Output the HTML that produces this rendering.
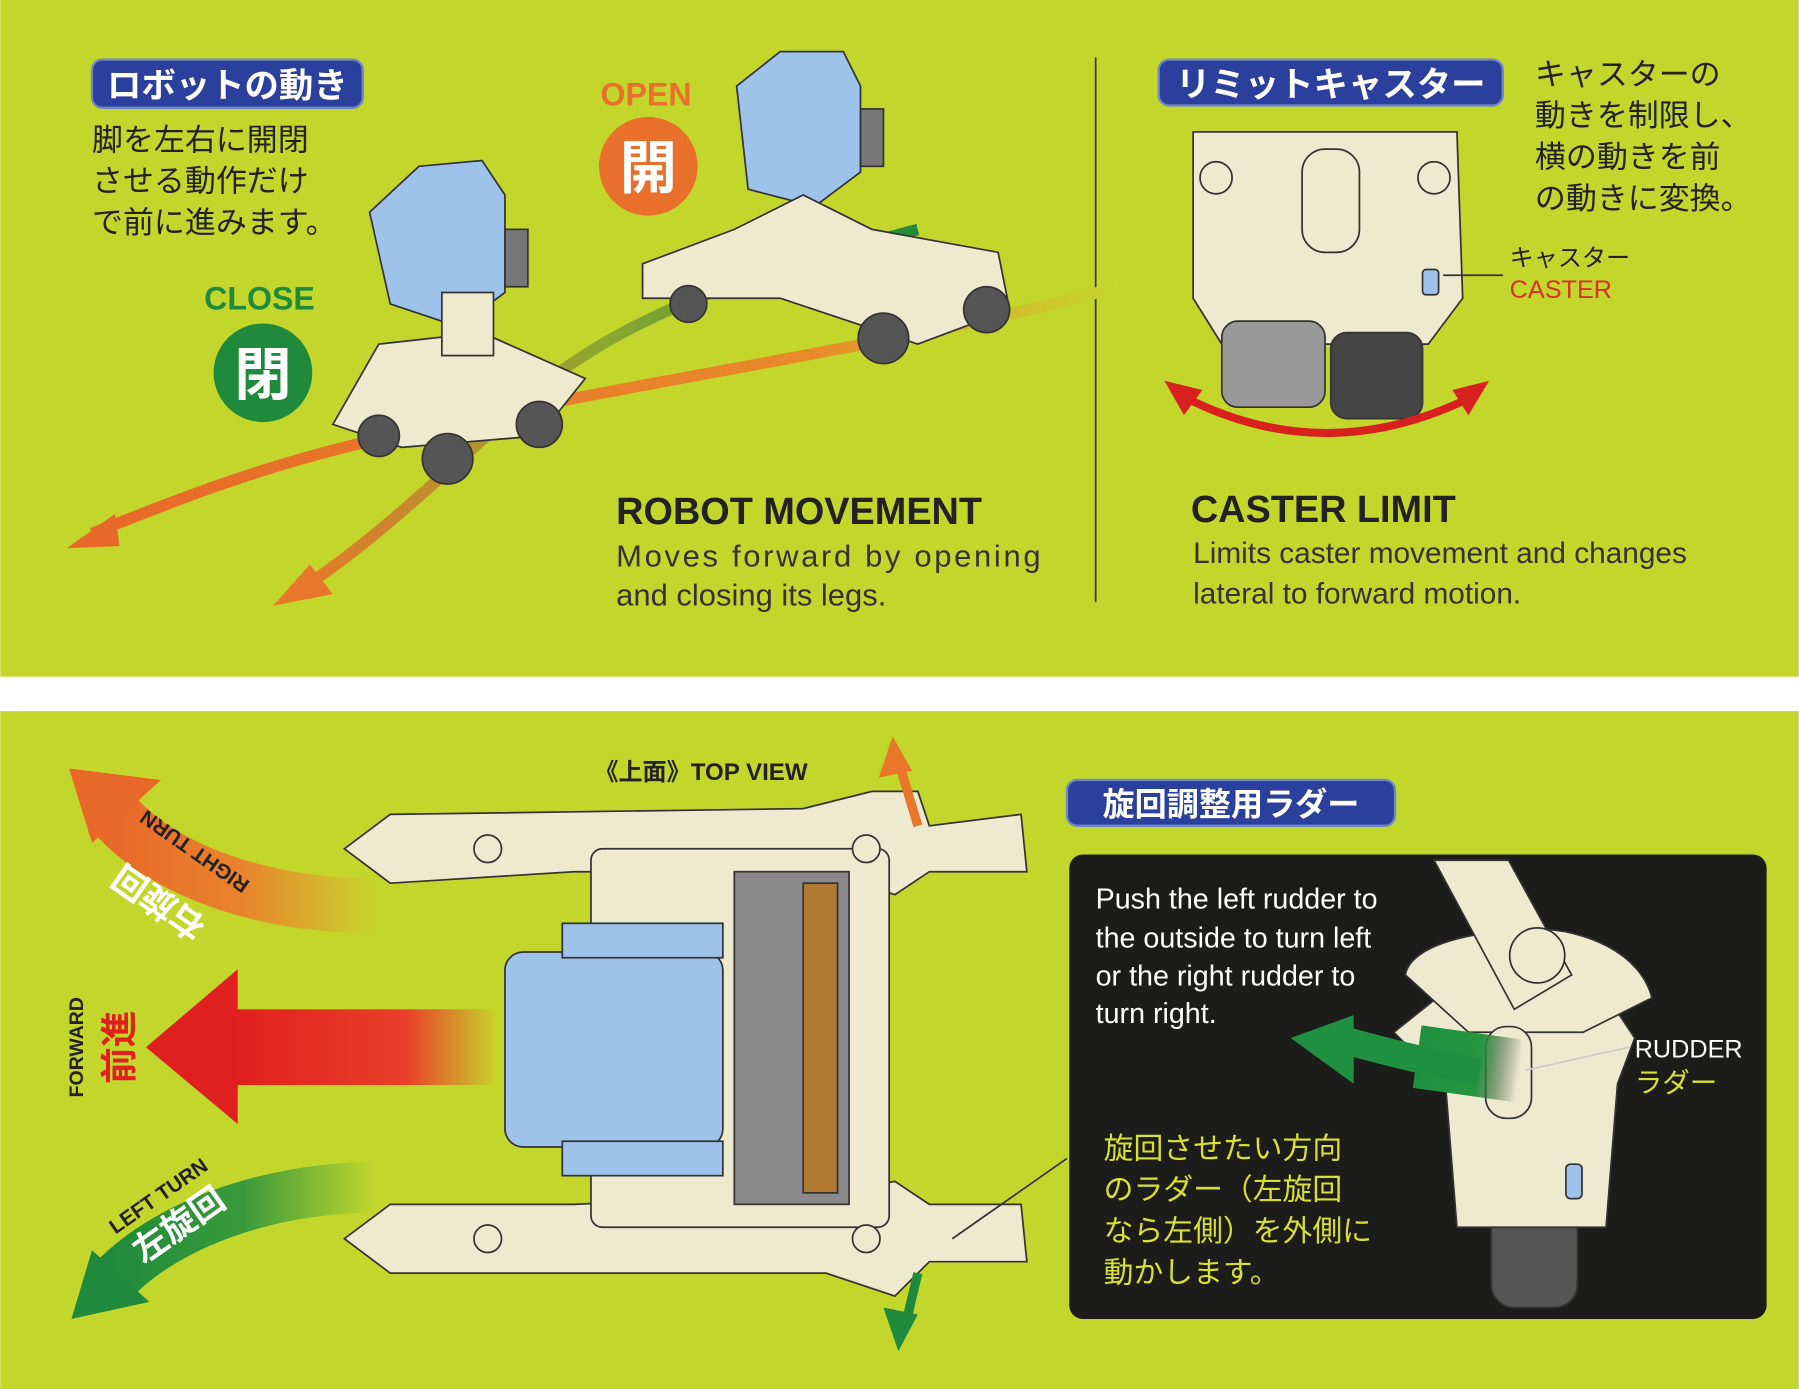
<!DOCTYPE html>
<html><head><meta charset="utf-8"><style>
html,body{margin:0;padding:0;background:#fff;}
svg{display:block;}
text{font-family:"Liberation Sans","Noto Sans CJK JP",sans-serif;}
</style></head><body>
<svg width="1799" height="1389" viewBox="0 0 1568 1211" xmlns="http://www.w3.org/2000/svg">
<defs>
<linearGradient id="og" x1="1" y1="0" x2="0" y2="0"><stop offset="0" stop-color="#c5d82c"/><stop offset="0.3" stop-color="#e88a2a"/><stop offset="1" stop-color="#e8682a"/></linearGradient>
<linearGradient id="gg" x1="0" y1="0" x2="1" y2="0"><stop offset="0" stop-color="#e8772a"/><stop offset="0.5" stop-color="#8aa830"/><stop offset="1" stop-color="#1f8a3c"/></linearGradient>
<linearGradient id="rg" x1="1" y1="0" x2="0" y2="0"><stop offset="0" stop-color="#c5d82c"/><stop offset="0.35" stop-color="#e8402a"/><stop offset="1" stop-color="#e0201e"/></linearGradient>
<linearGradient id="rt" x1="1" y1="0" x2="0" y2="0"><stop offset="0" stop-color="#c5d82c"/><stop offset="0.5" stop-color="#e9842c"/><stop offset="1" stop-color="#e8682a"/></linearGradient>
<linearGradient id="lt" x1="1" y1="0" x2="0" y2="0"><stop offset="0" stop-color="#c5d82c"/><stop offset="0.5" stop-color="#3a9a3a"/><stop offset="1" stop-color="#1f8a3c"/></linearGradient>
<linearGradient id="gr" x1="1" y1="0" x2="0" y2="0"><stop offset="0" stop-color="#1e1e1e" stop-opacity="0"/><stop offset="0.4" stop-color="#27963f"/><stop offset="1" stop-color="#1f9040"/></linearGradient>
</defs>
<rect width="1568" height="1211" fill="#fff"/>
<rect x="0" y="0" width="1568" height="590" fill="#c3d62c"/>
<rect x="0" y="620" width="1568" height="591" fill="#c3d62c"/>
<line x1="955" y1="50" x2="955" y2="525" stroke="#333" stroke-width="1.5"/>

<rect x="80" y="52" width="236" height="42" rx="9" fill="#2b3f9c" stroke="#6f86c8" stroke-width="2"/>
<text x="198" y="85" font-size="30" font-weight="bold" fill="#fff" text-anchor="middle">ロボットの動き</text>
<g font-size="27" fill="#222">
<text x="80" y="131">脚を左右に開閉</text>
<text x="80" y="167">させる動作だけ</text>
<text x="80" y="203">で前に進みます。</text>
</g>
<text x="226" y="270" font-size="28" font-weight="bold" fill="#1f8a3c" text-anchor="middle">CLOSE</text>
<circle cx="229" cy="325" r="43" fill="#1f8a3c"/>
<text x="229" y="344" font-size="50" font-weight="bold" fill="#fff" text-anchor="middle">閉</text>
<text x="563" y="92" font-size="28" font-weight="bold" fill="#e8702a" text-anchor="middle">OPEN</text>
<circle cx="565" cy="145" r="43" fill="#e8702a"/>
<text x="565" y="164" font-size="50" font-weight="bold" fill="#fff" text-anchor="middle">開</text>

<path d="M975,250 C800,300 500,340 300,390 C200,415 120,450 80,465" stroke="url(#og)" stroke-width="10" fill="none"/>
<polygon points="58,478 100,448 104,476" fill="#e8682a"/>
<path d="M800,200 C650,240 560,270 480,330 C400,400 330,470 260,515" stroke="url(#gg)" stroke-width="10" fill="none"/>
<polygon points="238,528 270,492 290,518" fill="#e8772a"/>

<g stroke="#333" stroke-width="1.5">
<path d="M322,185 L365,145 L420,140 L440,170 L440,255 L400,285 L340,265 Z" fill="#9ec3ea"/>
<path d="M330,300 L420,290 L510,330 L470,380 L350,390 L290,370 Z" fill="#eeead0"/>
<rect x="385" y="255" width="45" height="55" fill="#eeead0"/>
<rect x="440" y="200" width="20" height="50" fill="#777"/>
<circle cx="390" cy="400" r="22" fill="#555"/>
<circle cx="470" cy="370" r="20" fill="#555"/>
<circle cx="330" cy="380" r="18" fill="#555"/>
</g>
<g stroke="#333" stroke-width="1.5">
<path d="M642,75 L680,45 L735,45 L750,75 L750,150 L710,180 L652,165 Z" fill="#9ec3ea"/>
<path d="M560,230 L640,200 L700,170 L760,200 L870,220 L880,270 L800,300 L680,260 L560,260 Z" fill="#eeead0"/>
<rect x="750" y="95" width="20" height="50" fill="#777"/>
<circle cx="770" cy="295" r="22" fill="#555"/>
<circle cx="860" cy="270" r="20" fill="#555"/>
<circle cx="600" cy="265" r="16" fill="#555"/>
</g>

<text x="537" y="457" font-size="33" font-weight="bold" fill="#222">ROBOT MOVEMENT</text>
<text x="537" y="494" font-size="27" fill="#333" textLength="370">Moves forward by opening</text>
<text x="537" y="528" font-size="27" fill="#333">and closing its legs.</text>

<rect x="1010" y="52" width="300" height="40" rx="9" fill="#2b3f9c" stroke="#6f86c8" stroke-width="2"/>
<text x="1160" y="84" font-size="30" font-weight="bold" fill="#fff" text-anchor="middle">リミットキャスター</text>
<g font-size="27" fill="#222">
<text x="1338" y="74">キャスターの</text>
<text x="1338" y="110">動きを制限し、</text>
<text x="1338" y="146">横の動きを前</text>
<text x="1338" y="182">の動きに変換。</text>
</g>
<g stroke="#333" stroke-width="1.5">
<path d="M1040,115 L1270,115 L1275,260 L1245,300 L1065,300 L1040,260 Z" fill="#eeead0"/>
<rect x="1065" y="280" width="90" height="75" rx="14" fill="#999"/>
<rect x="1160" y="290" width="80" height="75" rx="14" fill="#444"/>
<rect x="1135" y="130" width="50" height="90" rx="20" fill="#eeead0"/>
<circle cx="1060" cy="155" r="14" fill="#eeead0"/>
<circle cx="1250" cy="155" r="14" fill="#eeead0"/>
<rect x="1240" y="235" width="14" height="22" rx="3" fill="#9ec3ea"/>
</g>
<line x1="1258" y1="240" x2="1310" y2="240" stroke="#333" stroke-width="1.5"/>
<text x="1316" y="232" font-size="21" fill="#222">キャスター</text>
<text x="1316" y="260" font-size="22" fill="#d8302a">CASTER</text>
<path d="M1030,345 Q1155,410 1285,345" stroke="#d8201e" stroke-width="7" fill="none"/>
<polygon points="1015,332 1048,340 1032,362" fill="#d8201e"/>
<polygon points="1298,332 1280,362 1266,340" fill="#d8201e"/>
<text x="1038" y="455" font-size="33" font-weight="bold" fill="#222">CASTER LIMIT</text>
<text x="1040" y="491" font-size="26" fill="#333">Limits caster movement and changes</text>
<text x="1040" y="526" font-size="26" fill="#333">lateral to forward motion.</text>

<text x="518" y="680" font-size="21" font-weight="bold" fill="#222">《上面》TOP VIEW</text>
<path d="M330,790 C230,790 140,760 95,705" stroke="url(#rt)" stroke-width="48" fill="none"/>
<polygon points="60,670 140,680 80,735" fill="#e8682a"/>
<g transform="translate(150,770) rotate(35)">
<text x="0" y="-10" font-size="30" font-weight="bold" fill="#fff" text-anchor="middle" transform="rotate(180)">右旋回</text>
<text x="0" y="40" font-size="18" font-weight="bold" fill="#222" text-anchor="middle" transform="rotate(180)">RIGHT TURN</text>
</g>
<rect x="205" y="880" width="230" height="66" fill="url(#rg)"/>
<polygon points="127,913 207,845 207,980" fill="#e0201e"/>
<text font-size="32" font-weight="bold" fill="#e0201e" transform="translate(115,913) rotate(-90)" text-anchor="middle">前進</text>
<text font-size="17" font-weight="bold" fill="#222" transform="translate(72,913) rotate(-90)" text-anchor="middle">FORWARD</text>
<path d="M330,1035 C230,1035 140,1070 95,1120" stroke="url(#lt)" stroke-width="44" fill="none"/>
<polygon points="62,1150 80,1090 130,1135" fill="#1f8a3c"/>
<g transform="translate(150,1060) rotate(-35)">
<text x="0" y="20" font-size="30" font-weight="bold" fill="#fff" text-anchor="middle">左旋回</text>
<text x="0" y="-15" font-size="18" font-weight="bold" fill="#222" text-anchor="middle">LEFT TURN</text>
</g>

<g stroke="#333" stroke-width="1.5" fill="#eeead0">
<path d="M300,740 L340,710 L700,705 L760,690 L800,690 L810,720 L890,710 L895,760 L810,760 L780,780 L720,760 L500,760 L340,770 Z"/>
<path d="M300,1080 L340,1050 L500,1050 L720,1040 L780,1030 L810,1050 L890,1050 L895,1100 L810,1100 L780,1130 L720,1110 L340,1110 Z"/>
<rect x="515" y="740" width="260" height="330" rx="10"/>
<rect x="640" y="760" width="100" height="290" fill="#8a8a8a"/>
<rect x="700" y="770" width="30" height="270" fill="#b07a35"/>
<rect x="440" y="830" width="190" height="170" rx="16" fill="#9ec3ea"/>
<rect x="490" y="805" width="140" height="30" fill="#9ec3ea"/>
<rect x="490" y="995" width="140" height="30" fill="#9ec3ea"/>
<circle cx="425" cy="740" r="12"/><circle cx="755" cy="740" r="12"/>
<circle cx="425" cy="1080" r="12"/><circle cx="755" cy="1080" r="12"/>
</g>
<path d="M800,720 L782,660" stroke="#e8772a" stroke-width="8"/>
<polygon points="778,642 766,678 795,672" fill="#e8772a"/>
<path d="M800,1110 L788,1160" stroke="#1f8a3c" stroke-width="8"/>
<polygon points="783,1178 770,1140 800,1146" fill="#1f8a3c"/>
<line x1="830" y1="1080" x2="930" y2="1010" stroke="#333" stroke-width="1.5"/>

<rect x="930" y="680" width="286" height="40" rx="9" fill="#2b3f9c" stroke="#6f86c8" stroke-width="2"/>
<text x="1073" y="711" font-size="28" font-weight="bold" fill="#fff" text-anchor="middle">旋回調整用ラダー</text>
<rect x="932" y="745" width="608" height="405" rx="12" fill="#1c1d1a"/>
<g stroke="#333" stroke-width="1.5" fill="#eeead0">
<rect x="1300" y="1010" width="75" height="130" rx="20" fill="#555"/>
<path d="M1215,900 L1265,860 L1395,860 L1425,905 L1410,945 L1400,1070 L1270,1070 L1260,945 Z"/>
<path d="M1225,850 C1230,820 1300,810 1340,810 C1380,810 1430,830 1440,870 L1380,900 L1280,900 Z"/>
<path d="M1250,750 L1315,750 L1370,850 L1320,880 Z"/>
<circle cx="1340" cy="833" r="24"/>
<rect x="1295" y="895" width="40" height="80" rx="18"/>
<rect x="1365" y="1015" width="14" height="30" rx="4" fill="#9ec3ea"/>
</g>
<rect x="1235" y="900" width="90" height="55" fill="url(#gr)" transform="rotate(8 1280 927)"/>
<path d="M1290,935 C1240,925 1200,915 1165,905" stroke="#1f9040" stroke-width="24" fill="none"/>
<polygon points="1125,905 1180,885 1180,945" fill="#1f9040"/>
<line x1="1330" y1="933" x2="1420" y2="913" stroke="#ccc" stroke-width="1.5"/>
<text x="1425" y="922" font-size="22" fill="#fff">RUDDER</text>
<text x="1425" y="952" font-size="24" fill="#d8e030">ラダー</text>
<g font-size="25" fill="#fff">
<text x="955" y="792">Push the left rudder to</text>
<text x="955" y="826">the outside to turn left</text>
<text x="955" y="859">or the right rudder to</text>
<text x="955" y="892">turn right.</text>
</g>
<g font-size="26" fill="#d8e030">
<text x="962" y="1010">旋回させたい方向</text>
<text x="962" y="1046">のラダー（左旋回</text>
<text x="962" y="1082">なら左側）を外側に</text>
<text x="962" y="1118">動かします。</text>
</g>
</svg>
</body></html>
